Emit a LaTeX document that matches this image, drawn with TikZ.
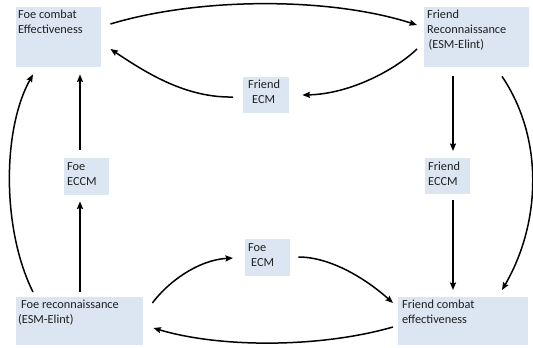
\documentclass[tikz,border=0pt]{standalone}
\usepackage{fontspec}
\setmainfont{Carlito}
\usetikzlibrary{arrows.meta,calc}
\newcommand{\boxlines}[1]{\begin{tabular}[t]{@{}l@{}}#1\end{tabular}}
\begin{document}
\begin{tikzpicture}[x=1pt,y=-1pt,
  blk/.style={fill=boxblue,draw=none,inner sep=0pt,anchor=north west},
  lbl/.style={inner sep=0pt,anchor=base west,text=textgray,
    font=\fontsize{12.3}{15}\selectfont},
  conn/.style={line width=1.5pt,-{Stealth[length=7.5pt,width=6pt,inset=1pt]}}]
\definecolor{boxblue}{HTML}{DCE6F2}
\definecolor{textgray}{HTML}{1F1F1F}
\useasboundingbox (0,0) rectangle (533,348);
% boxes
\node[blk,minimum width=85,minimum height=60] (fce) at (16,7) {};
\node[blk,minimum width=105,minimum height=60] (frec) at (424,7) {};
\node[blk,minimum width=46,minimum height=36] (fecm) at (243,77) {};
\node[blk,minimum width=45,minimum height=37] (foeccm) at (64,158) {};
\node[blk,minimum width=45,minimum height=36] (frccm) at (425,158) {};
\node[blk,minimum width=45,minimum height=37] (foecm) at (245,239) {};
\node[blk,minimum width=127,minimum height=48] (foerec) at (16,297) {};
\node[blk,minimum width=130,minimum height=48] (frcomb) at (398,297) {};
% texts
\node[lbl] (t1) at ($(fce.north west)+(2,12)$) {\boxlines{Foe combat\\Effectiveness}};
\node[lbl] (t2) at ($(frec.north west)+(3,12)$) {\boxlines{Friend\\Reconnaissance\\\hspace{1.5pt}(ESM-Elint)}};
\node[lbl] (t3) at ($(fecm.north west)+(5,11)$) {\boxlines{Friend\\\hspace{4pt}ECM}};
\node[lbl] (t4) at ($(foeccm.north west)+(3,12)$) {\boxlines{Foe\\ECCM}};
\node[lbl] (t5) at ($(frccm.north west)+(3,12)$) {\boxlines{Friend\\ECCM}};
\node[lbl] (t6) at ($(foecm.north west)+(3,12)$) {\boxlines{Foe\\\hspace{3pt}ECM}};
\node[lbl] (t7) at ($(foerec.north west)+(2,11)$) {\boxlines{\hspace{3pt}Foe reconnaissance\\(ESM-Elint)}};
\node[lbl] (t8) at ($(frcomb.north west)+(4,11)$) {\boxlines{Friend combat\\effectiveness}};
% connectors
\draw[conn] ($(fce.north east)+(9,17)$) .. controls (200,-3) and (330,-3) .. ($(frec.north west)+(-7,18)$);
\draw[conn] ($(frec.north west)+(-7,42)$) .. controls (395,70) and (350,94) .. ($(fecm.north east)+(13,18)$);
\draw[conn] ($(fecm.north west)+(-10,20)$) .. controls (185,98) and (145,72) .. ($(fce.north east)+(9,42)$);
\draw[conn] ($(frec.south west)+(29,9)$) -- ($(frccm.north west)+(28,-7)$);
\draw[conn] ($(frccm.south west)+(28,6)$) -- ($(frcomb.north west)+(55,-7)$);
\draw[conn] ($(frec.south west)+(78,9)$) .. controls (545,140) and (540,225) .. ($(frcomb.north west)+(104,-7)$);
\draw[conn] ($(foecm.north east)+(8,18)$) .. controls (330,257) and (365,278) .. ($(frcomb.north west)+(-5,6)$);
\draw[conn] ($(frcomb.north west)+(-5,30)$) .. controls (320,348) and (220,348) .. ($(foerec.north east)+(10,31)$);
\draw[conn] ($(foerec.north east)+(9,6)$) .. controls (168,282) and (198,260) .. ($(foecm.north west)+(-12,19)$);
\draw[conn] ($(foerec.north west)+(64,-5)$) -- ($(foeccm.south west)+(16,6)$);
\draw[conn] ($(foeccm.north west)+(16,-8)$) -- ($(fce.south west)+(64,7)$);
\draw[conn] ($(foerec.north west)+(17,-5)$) .. controls (2,230) and (2,130) .. ($(fce.south west)+(17,7)$);
\end{tikzpicture}
\end{document}
